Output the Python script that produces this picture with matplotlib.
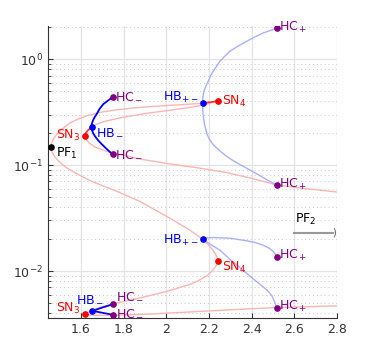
import matplotlib
matplotlib.use('Agg')
from matplotlib import pyplot as plt
from matplotlib.ticker import LogLocator, FixedLocator, NullFormatter

# equilibrium branches (pink)
outer_up_x = [1.459, 1.462, 1.470, 1.483, 1.500, 1.525, 1.55, 1.581, 1.63, 1.689, 1.76, 1.844, 1.93, 2.017, 2.10, 2.170, 2.241]
outer_up_y = [0.149, 0.160, 0.175, 0.190, 0.208, 0.230, 0.250, 0.269, 0.293, 0.314, 0.331, 0.346, 0.357, 0.366, 0.375, 0.384, 0.401]
inner_up_x = [2.241, 2.18, 2.111, 2.02, 1.923, 1.85, 1.783, 1.713, 1.675, 1.650, 1.632, 1.622, 1.619]
inner_up_y = [0.401, 0.372, 0.350, 0.330, 0.311, 0.294, 0.279, 0.259, 0.244, 0.228, 0.212, 0.199, 0.189]
down_up_x = [1.619, 1.621, 1.627, 1.640, 1.666, 1.720, 1.767, 1.877, 2.017, 2.15, 2.283, 2.40, 2.517, 2.65, 2.8]
down_up_y = [0.189, 0.180, 0.171, 0.161, 0.148, 0.135, 0.128, 0.114, 0.1026, 0.094, 0.085, 0.075, 0.065, 0.060, 0.0557]
outer_lo_x = [1.459, 1.462, 1.470, 1.482, 1.502, 1.533, 1.58, 1.642, 1.70, 1.759, 1.877, 2.017, 2.111, 2.170, 2.205, 2.228, 2.239, 2.241]
outer_lo_y = [0.149, 0.138, 0.127, 0.117, 0.106, 0.0945, 0.083, 0.0715, 0.064, 0.0576, 0.0454, 0.0315, 0.0243, 0.0200, 0.0170, 0.0148, 0.0133, 0.0125]
inner_lo_x = [2.241, 2.238, 2.230, 2.215, 2.190, 2.150, 2.111, 2.05, 1.994, 1.877, 1.783, 1.689, 1.653, 1.630, 1.619]
inner_lo_y = [0.0125, 0.0117, 0.0109, 0.0100, 0.00900, 0.00810, 0.00747, 0.00685, 0.00635, 0.00557, 0.00506, 0.00454, 0.00421, 0.00405, 0.00394]
flat_lo_x = [1.619, 1.630, 1.645, 1.666, 1.750, 1.923, 2.064, 2.299, 2.517, 2.8]
flat_lo_y = [0.00394, 0.00388, 0.00384, 0.00382, 0.00382, 0.00392, 0.00406, 0.00430, 0.00452, 0.00469]

# stable parts (red)
stab1_x = [1.619, 1.622, 1.632, 1.650]
stab1_y = [0.189, 0.199, 0.212, 0.228]
stab2_x = [2.170, 2.241]
stab2_y = [0.384, 0.401]

# periodic orbit branches
hbm_up_x = [1.749, 1.726, 1.705, 1.687, 1.674, 1.663, 1.656, 1.651, 1.650, 1.652, 1.658, 1.667, 1.680, 1.696, 1.713, 1.731, 1.749]
hbm_up_y = [0.437, 0.405, 0.376, 0.338, 0.303, 0.280, 0.262, 0.244, 0.228, 0.214, 0.199, 0.186, 0.172, 0.159, 0.147, 0.136, 0.126]
hbp_up_x = [2.517, 2.455, 2.415, 2.377, 2.337, 2.299, 2.275, 2.252, 2.236, 2.220, 2.208, 2.197, 2.186, 2.177, 2.172, 2.170,
            2.171, 2.173, 2.177, 2.181, 2.190, 2.200, 2.220, 2.25, 2.28, 2.314, 2.37, 2.424, 2.47, 2.517]
hbp_up_y = [1.95, 1.77, 1.62, 1.476, 1.33, 1.19, 1.07, 0.958, 0.86, 0.771, 0.70, 0.622, 0.56, 0.501, 0.44, 0.384,
            0.33, 0.292, 0.26, 0.235, 0.20, 0.178, 0.156, 0.137, 0.122, 0.110, 0.095, 0.0827, 0.073, 0.065]
hbm_lo_x = [1.750, 1.653, 1.750]
hbm_lo_y = [0.00486, 0.00421, 0.00386]
hbp_lo1_x = [2.170, 2.185, 2.220, 2.299, 2.377, 2.420, 2.455, 2.485, 2.502, 2.512, 2.517]
hbp_lo1_y = [0.0200, 0.0205, 0.0207, 0.0204, 0.0193, 0.0185, 0.0175, 0.0163, 0.0152, 0.0143, 0.01365]
hbp_lo2_x = [2.170, 2.210, 2.252, 2.30, 2.340, 2.377, 2.425, 2.471, 2.495, 2.508, 2.517]
hbp_lo2_y = [0.0200, 0.0177, 0.0157, 0.0128, 0.0110, 0.0095, 0.0079, 0.00664, 0.00585, 0.00510, 0.00447]

# special points: (x, y, label, colour, dx, dy, ha)
points = [
    (1.459, 0.149, 'PF$_1$', 'black', 4, -5, 'left'),
    (1.619, 0.189, 'SN$_3$', 'red', -3, 0, 'right'),
    (1.650, 0.228, 'HB$_-$', 'blue', 3, -3, 'left'),
    (1.749, 0.437, 'HC$_-$', 'purple', 2, 1, 'left'),
    (1.749, 0.126, 'HC$_-$', 'purple', 2, 1, 'left'),
    (2.170, 0.384, 'HB$_{+-}$', 'blue', -3, 4, 'right'),
    (2.241, 0.401, 'SN$_4$', 'red', 3, 0, 'left'),
    (2.517, 1.95, 'HC$_+$', 'purple', 2, 1, 'left'),
    (2.517, 0.065, 'HC$_+$', 'purple', 2, 0, 'left'),
    (2.170, 0.0200, 'HB$_{+-}$', 'blue', -3, -1, 'right'),
    (2.241, 0.0125, 'SN$_4$', 'red', 3, -5, 'left'),
    (2.517, 0.01365, 'HC$_+$', 'purple', 2, 1, 'left'),
    (2.517, 0.00447, 'HC$_+$', 'purple', 2, 1, 'left'),
    (1.619, 0.00394, 'SN$_3$', 'red', -3, 4, 'right'),
    (1.653, 0.00421, 'HB$_-$', 'blue', -12, 9, 'left'),
    (1.750, 0.00486, 'HC$_-$', 'purple', 2, 6.5, 'left'),
    (1.750, 0.00386, 'HC$_-$', 'purple', 2, 2, 'left'),
]

pf2_x = [2.6, 2.78]
pf2_y = [0.0229, 0.0229]

plt.rcParams['mathtext.default'] = 'regular'
fig = plt.figure(figsize=(3.73, 3.58), dpi=100)
ax = fig.add_axes([0.1287, 0.1117, 0.7748, 0.8153])

pink = '#ffb4b4'
for xs, ys in [(outer_up_x, outer_up_y), (inner_up_x, inner_up_y), (down_up_x, down_up_y),
               (outer_lo_x, outer_lo_y), (inner_lo_x, inner_lo_y), (flat_lo_x, flat_lo_y)]:
    ax.plot(xs, ys, color=pink, lw=1.0, zorder=2)
for xs, ys in [(stab1_x, stab1_y), (stab2_x, stab2_y)]:
    ax.plot(xs, ys, color='#ff3030', lw=1.2, zorder=3)

lightblue = '#aab0ff'
ax.plot(hbp_up_x, hbp_up_y, color=lightblue, lw=1.0, zorder=3)
ax.plot(hbp_lo1_x, hbp_lo1_y, color=lightblue, lw=1.0, zorder=3)
ax.plot(hbp_lo2_x, hbp_lo2_y, color=lightblue, lw=1.0, zorder=3)
ax.plot(hbm_up_x, hbm_up_y, color='#0000ff', lw=1.3, zorder=4)
ax.plot(hbm_lo_x, hbm_lo_y, color='#0000ff', lw=1.3, zorder=4)

ax.plot(pf2_x, pf2_y, color='#999999', lw=1.5, zorder=3)
ax.text(2.78, 0.0229, ')', fontsize=7, va='center', ha='left', color='#555555')
ax.text(2.602, 0.0262, 'PF$_2$', fontsize=9, va='bottom', ha='left', color='black')

for x, y, lab, c, dx, dy, ha in points:
    ax.plot([x], [y], 'o', color=c, ms=3.8, zorder=5)
    ax.annotate(lab, (x, y), xytext=(dx, dy), textcoords='offset points',
                fontsize=9, color=c, ha=ha, va='center', zorder=6)

ax.set_yscale('log')
ax.set_xlim(1.446, 2.8)
ax.set_ylim(0.0036, 2.05)
ax.xaxis.set_major_locator(FixedLocator([1.6, 1.8, 2.0, 2.2, 2.4, 2.6, 2.8]))
ax.set_xticklabels(['1.6', '1.8', '2', '2.2', '2.4', '2.6', '2.8'])
ax.yaxis.set_minor_locator(LogLocator(base=10, subs=range(2, 10)))
ax.yaxis.set_minor_formatter(NullFormatter())

ax.grid(True, which='major', color='#e3e3e3', lw=0.9)
ax.grid(True, which='minor', axis='y', color='#c8c8c8', lw=0.7, ls=(0, (1, 3)))
ax.set_axisbelow(True)
for s in ['top', 'right']:
    ax.spines[s].set_visible(False)
for s in ['left', 'bottom']:
    ax.spines[s].set_color('#333333')
ax.tick_params(which='both', direction='in', labelsize=9, colors='#333333')
ax.tick_params(which='minor', length=2)

fig.savefig('out.png', dpi=100)
